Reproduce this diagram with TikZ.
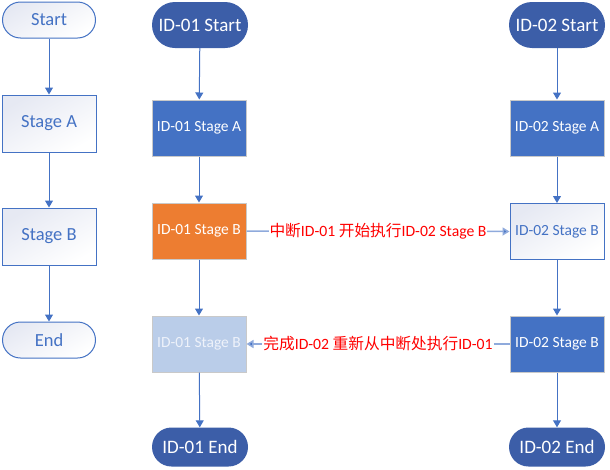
\documentclass[tikz,border=0pt]{standalone}
\usepackage{fontspec}
\setmainfont{Carlito}
\newfontfamily\cjk{Noto Sans CJK SC}
\usepackage{tikz}
\usetikzlibrary{arrows.meta}

\definecolor{accent}{HTML}{4472C4}
\definecolor{darkterm}{HTML}{3C5EA8}
\definecolor{paleline}{HTML}{8FAADC}
\definecolor{palebox}{HTML}{BACDE9}
\definecolor{edgegray}{HTML}{C9C9C9}
\definecolor{tint}{HTML}{E6E9F3}
\definecolor{orangebox}{HTML}{ED7D31}
\definecolor{palefont}{HTML}{EEF2FA}

\newcommand{\zh}[1]{{\cjk #1}}

\tikzset{
  flow/.style={draw=accent, line width=1pt,
    -{Triangle[width=8pt,length=7pt]}},
  cross/.style={draw=paleline, line width=1.5pt,
    -{Triangle[width=8pt,length=7pt,fill=accent]}},
  outline/.style={draw=accent, line width=1pt,
    top color=tint, bottom color=white, shading angle=30,
    text=accent, inner sep=0pt},
  solid box/.style={draw=edgegray, line width=1pt,
    text=white, inner sep=0pt, minimum width=94pt, minimum height=56pt,
    font=\fontsize{15.5}{18}\selectfont},
  terminal/.style={fill=darkterm, text=white, inner sep=0pt,
    minimum width=96pt, font=\fontsize{19}{22}\selectfont}
}

\begin{document}
\begin{tikzpicture}[x=1pt,y=-1pt]
  \useasboundingbox
    (0,0)
    rectangle
    (610,469);

  % legend column
  \node[outline, rounded corners=18pt, minimum width=93pt, minimum height=36pt,
    font=\fontsize{18.5}{22}\selectfont] (st) at (49,20) {Start};
  \node[outline, minimum width=94pt, minimum height=57pt,
    font=\fontsize{18.5}{22}\selectfont] (sa) at (49,123.5) {Stage A};
  \node[outline, minimum width=94pt, minimum height=57pt,
    font=\fontsize{18.5}{22}\selectfont] (sb) at (49,236.5) {Stage B};
  \node[outline, rounded corners=18pt, minimum width=93pt, minimum height=36pt,
    font=\fontsize{18.5}{22}\selectfont] (en) at (49,340) {End};

  % task ID-01
  \node[terminal, rounded corners=23pt, minimum height=46pt] (s1) at (200,25) {ID-01 Start};
  \node[solid box, fill=accent] (a1) at (199,128) {ID-01 Stage A};
  \node[solid box, fill=orangebox] (b1) at (199,231) {ID-01 Stage B};
  \node[solid box, fill=palebox, text=palefont] (c1) at (199,344) {ID-01 Stage B};
  \node[terminal, rounded corners=19.5pt, minimum height=39pt] (e1) at (200,447) {ID-01 End};

  % task ID-02
  \node[terminal, rounded corners=23pt, minimum height=46pt] (s2) at (557,25) {ID-02 Start};
  \node[solid box, fill=accent] (a2) at (557,128) {ID-02 Stage A};
  \node[outline, solid box, draw=accent, text=accent] (b2) at (557,231.5) {ID-02 Stage B};
  \node[solid box, fill=accent] (c2) at (557,344) {ID-02 Stage B};
  \node[terminal, rounded corners=19.5pt, minimum height=39pt] (e2) at (557,447) {ID-02 End};

  \foreach \u/\v in {st/sa,sa/sb,sb/en,s1/a1,a1/b1,b1/c1,c1/e1,s2/a2,a2/b2,b2/c2,c2/e2}
    \draw[flow] (\u) -- (\v);

  \draw[cross]
    (b1.east)
    --
    node[fill=white, inner sep=1pt, text=red, font=\fontsize{15.7}{18}\selectfont]
      {\zh{中断}ID-01 \zh{开始执行}ID-02 Stage B}
    (b2.west);
  \draw[cross]
    (c2.west)
    --
    node[fill=white, inner sep=1pt, text=red, font=\fontsize{15.7}{18}\selectfont]
      {\zh{完成}ID-02 \zh{重新从中断处执行}ID-01}
    (c1.east);
\end{tikzpicture}
\end{document}
